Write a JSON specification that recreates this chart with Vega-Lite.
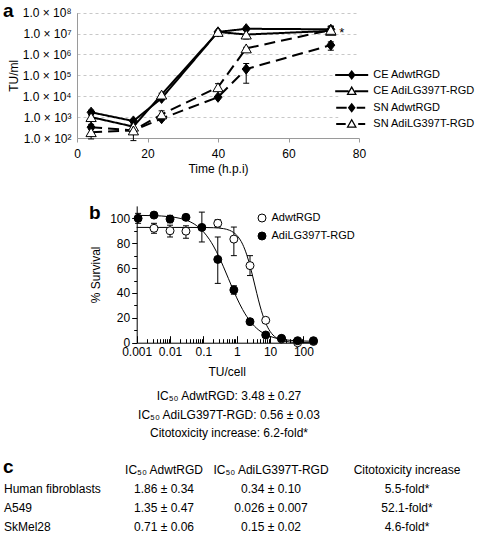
{
  "$schema": "https://vega.github.io/schema/vega-lite/v6.json",
  "width": 484,
  "height": 540,
  "autosize": {"type": "none"},
  "padding": 0,
  "background": "white",
  "config": {
    "view": {"stroke": null},
    "font": "Liberation Sans",
    "axis": {"labelFont": "Liberation Sans", "titleFont": "Liberation Sans", "labelColor": "black", "titleColor": "black", "titleFontWeight": "normal", "labelFontSize": 12, "titleFontSize": 12},
    "legend": {"labelFont": "Liberation Sans", "labelColor": "black", "labelFontSize": 11},
    "text": {"font": "Liberation Sans", "color": "black"}
  },
  "datasets": {
    "growth": [
      {"series": "CE AdwtRGD", "t": 4, "v": 1700, "lo": 1350, "hi": 2150},
      {"series": "CE AdwtRGD", "t": 16, "v": 650, "lo": 520, "hi": 800},
      {"series": "CE AdwtRGD", "t": 24, "v": 8000, "lo": 6600, "hi": 9800},
      {"series": "CE AdwtRGD", "t": 40, "v": 12000000, "lo": 11000000, "hi": 13000000},
      {"series": "CE AdwtRGD", "t": 48, "v": 17000000, "lo": 14000000, "hi": 20000000},
      {"series": "CE AdwtRGD", "t": 72, "v": 16000000, "lo": 11000000, "hi": 23000000},
      {"series": "CE AdiLG397T-RGD", "t": 4, "v": 1000, "lo": 800, "hi": 1250},
      {"series": "CE AdiLG397T-RGD", "t": 16, "v": 350, "lo": 280, "hi": 440},
      {"series": "CE AdiLG397T-RGD", "t": 24, "v": 12000, "lo": 10000, "hi": 14000},
      {"series": "CE AdiLG397T-RGD", "t": 40, "v": 12000000, "lo": 11000000, "hi": 13000000},
      {"series": "CE AdiLG397T-RGD", "t": 48, "v": 9000000, "lo": 5500000, "hi": 15000000},
      {"series": "CE AdiLG397T-RGD", "t": 72, "v": 13500000, "lo": 9000000, "hi": 22000000},
      {"series": "SN AdwtRGD", "t": 4, "v": 330, "lo": 250, "hi": 450},
      {"series": "SN AdwtRGD", "t": 16, "v": 230, "lo": 200, "hi": 260},
      {"series": "SN AdwtRGD", "t": 24, "v": 850, "lo": 700, "hi": 1000},
      {"series": "SN AdwtRGD", "t": 40, "v": 9000, "lo": 8000, "hi": 10000},
      {"series": "SN AdwtRGD", "t": 48, "v": 200000, "lo": 42000, "hi": 370000},
      {"series": "SN AdwtRGD", "t": 72, "v": 2800000, "lo": 1600000, "hi": 4000000},
      {"series": "SN AdiLG397T-RGD", "t": 4, "v": 190, "lo": 90, "hi": 290},
      {"series": "SN AdiLG397T-RGD", "t": 16, "v": 230, "lo": 75, "hi": 320},
      {"series": "SN AdiLG397T-RGD", "t": 24, "v": 1350, "lo": 800, "hi": 2000},
      {"series": "SN AdiLG397T-RGD", "t": 40, "v": 27000, "lo": 20000, "hi": 40000},
      {"series": "SN AdiLG397T-RGD", "t": 48, "v": 1950000, "lo": 1700000, "hi": 2200000},
      {"series": "SN AdiLG397T-RGD", "t": 72, "v": 15000000, "lo": 10000000, "hi": 22000000}
    ],
    "growthLegend": [
      {"series": "CE AdwtRGD"},
      {"series": "CE AdiLG397T-RGD"},
      {"series": "SN AdwtRGD"},
      {"series": "SN AdiLG397T-RGD"}
    ],
    "viability": [
      {"series": "AdwtRGD", "dose": 0.0033, "s": 92, "lo": 88, "hi": 96},
      {"series": "AdwtRGD", "dose": 0.01, "s": 90, "lo": 85, "hi": 94.5},
      {"series": "AdwtRGD", "dose": 0.03, "s": 89.7, "lo": 84, "hi": 94},
      {"series": "AdwtRGD", "dose": 0.27, "s": 96, "lo": 93, "hi": 99},
      {"series": "AdwtRGD", "dose": 0.82, "s": 83.3, "lo": 70, "hi": 93},
      {"series": "AdwtRGD", "dose": 2.5, "s": 62, "lo": 54, "hi": 70},
      {"series": "AdwtRGD", "dose": 7.4, "s": 18, "lo": 16.5, "hi": 19.5},
      {"series": "AdwtRGD", "dose": 22, "s": 3, "lo": 2, "hi": 4},
      {"series": "AdwtRGD", "dose": 67, "s": 0, "lo": -0.5, "hi": 0.5},
      {"series": "AdwtRGD", "dose": 200, "s": 1, "lo": 0.5, "hi": 1.5},
      {"series": "AdiLG397T-RGD", "dose": 0.0011, "s": 100, "lo": 96, "hi": 104},
      {"series": "AdiLG397T-RGD", "dose": 0.0033, "s": 102.6, "lo": 100.6, "hi": 104.6},
      {"series": "AdiLG397T-RGD", "dose": 0.01, "s": 99.4, "lo": 96.4, "hi": 102.4},
      {"series": "AdiLG397T-RGD", "dose": 0.03, "s": 100.8, "lo": 99.3, "hi": 102.3},
      {"series": "AdiLG397T-RGD", "dose": 0.09, "s": 92.7, "lo": 81, "hi": 105},
      {"series": "AdiLG397T-RGD", "dose": 0.27, "s": 67, "lo": 47.7, "hi": 85},
      {"series": "AdiLG397T-RGD", "dose": 0.82, "s": 42.4, "lo": 39, "hi": 45.8},
      {"series": "AdiLG397T-RGD", "dose": 2.5, "s": 16.9, "lo": 15, "hi": 19},
      {"series": "AdiLG397T-RGD", "dose": 7.4, "s": 6.2, "lo": 5, "hi": 7.5},
      {"series": "AdiLG397T-RGD", "dose": 22, "s": 3.5, "lo": 2.5, "hi": 4.5},
      {"series": "AdiLG397T-RGD", "dose": 67, "s": 1.6, "lo": 0.8, "hi": 2.4},
      {"series": "AdiLG397T-RGD", "dose": 200, "s": 1.6, "lo": 0.5, "hi": 2.7}
    ],
    "fit": [
      {"series": "AdwtRGD", "dose": 0.001, "s": 92.7},
      {"series": "AdwtRGD", "dose": 0.01, "s": 92.7},
      {"series": "AdwtRGD", "dose": 0.1, "s": 92.65},
      {"series": "AdwtRGD", "dose": 0.2, "s": 92.47},
      {"series": "AdwtRGD", "dose": 0.4, "s": 91.72},
      {"series": "AdwtRGD", "dose": 0.6, "s": 90.45},
      {"series": "AdwtRGD", "dose": 0.8, "s": 88.66},
      {"series": "AdwtRGD", "dose": 1, "s": 86.4},
      {"series": "AdwtRGD", "dose": 1.5, "s": 79.18},
      {"series": "AdwtRGD", "dose": 2, "s": 70.63},
      {"series": "AdwtRGD", "dose": 2.5, "s": 61.84},
      {"series": "AdwtRGD", "dose": 3, "s": 53.52},
      {"series": "AdwtRGD", "dose": 3.48, "s": 46.35},
      {"series": "AdwtRGD", "dose": 4, "s": 39.63},
      {"series": "AdwtRGD", "dose": 5, "s": 29.51},
      {"series": "AdwtRGD", "dose": 6, "s": 22.4},
      {"series": "AdwtRGD", "dose": 7.5, "s": 15.41},
      {"series": "AdwtRGD", "dose": 10, "s": 9.11},
      {"series": "AdwtRGD", "dose": 15, "s": 4.12},
      {"series": "AdwtRGD", "dose": 20, "s": 2.3},
      {"series": "AdwtRGD", "dose": 30, "s": 1.0},
      {"series": "AdwtRGD", "dose": 50, "s": 0.34},
      {"series": "AdwtRGD", "dose": 100, "s": 0.08},
      {"series": "AdwtRGD", "dose": 200, "s": 0.02},
      {"series": "AdiLG397T-RGD", "dose": 0.001, "s": 102.4},
      {"series": "AdiLG397T-RGD", "dose": 0.003, "s": 102.18},
      {"series": "AdiLG397T-RGD", "dose": 0.01, "s": 101.3},
      {"series": "AdiLG397T-RGD", "dose": 0.02, "s": 99.97},
      {"series": "AdiLG397T-RGD", "dose": 0.04, "s": 97.23},
      {"series": "AdiLG397T-RGD", "dose": 0.07, "s": 93.15},
      {"series": "AdiLG397T-RGD", "dose": 0.1, "s": 89.24},
      {"series": "AdiLG397T-RGD", "dose": 0.15, "s": 83.2},
      {"series": "AdiLG397T-RGD", "dose": 0.2, "s": 77.78},
      {"series": "AdiLG397T-RGD", "dose": 0.3, "s": 68.53},
      {"series": "AdiLG397T-RGD", "dose": 0.4, "s": 61.03},
      {"series": "AdiLG397T-RGD", "dose": 0.56, "s": 51.75},
      {"series": "AdiLG397T-RGD", "dose": 0.7, "s": 45.55},
      {"series": "AdiLG397T-RGD", "dose": 1, "s": 36.08},
      {"series": "AdiLG397T-RGD", "dose": 1.5, "s": 26.66},
      {"series": "AdiLG397T-RGD", "dose": 2, "s": 21.07},
      {"series": "AdiLG397T-RGD", "dose": 3, "s": 14.84},
      {"series": "AdiLG397T-RGD", "dose": 5, "s": 9.38},
      {"series": "AdiLG397T-RGD", "dose": 7.5, "s": 6.53},
      {"series": "AdiLG397T-RGD", "dose": 10, "s": 5.09},
      {"series": "AdiLG397T-RGD", "dose": 20, "s": 2.95},
      {"series": "AdiLG397T-RGD", "dose": 50, "s": 1.72},
      {"series": "AdiLG397T-RGD", "dose": 100, "s": 1.34},
      {"series": "AdiLG397T-RGD", "dose": 200, "s": 1.16}
    ],
    "ic50": [
      {"line": 1, "text": "IC₅₀ AdwtRGD: 3.48 ± 0.27"},
      {"line": 2, "text": "IC₅₀ AdiLG397T-RGD: 0.56 ± 0.03"},
      {"line": 3, "text": "Citotoxicity increase: 6.2-fold*"}
    ],
    "table": [
      {"row": "header", "label": "", "c1": "IC₅₀ AdwtRGD", "c2": "IC₅₀ AdiLG397T-RGD", "c3": "Citotoxicity increase"},
      {"row": "Human fibroblasts", "label": "Human fibroblasts", "c1": "1.86 ± 0.34", "c2": "0.34 ± 0.10", "c3": "5.5-fold*"},
      {"row": "A549", "label": "A549", "c1": "1.35 ± 0.47", "c2": "0.026 ± 0.007", "c3": "52.1-fold*"},
      {"row": "SkMel28", "label": "SkMel28", "c1": "0.71 ± 0.06", "c2": "0.15 ± 0.02", "c3": "4.6-fold*"}
    ],
    "letters": [
      {"panel": "a"},
      {"panel": "b"},
      {"panel": "c"}
    ]
  },
  "resolve": {
    "scale": {"x": "independent", "y": "independent", "fill": "independent", "shape": "independent", "strokeDash": "independent"},
    "axis": {"x": "independent", "y": "independent"},
    "legend": {"fill": "independent", "shape": "independent", "strokeDash": "independent"}
  },
  "layer": [
    {
      "data": {"name": "growth"},
      "encoding": {
        "x": {
          "field": "t", "type": "quantitative", "title": "Time (h.p.i)",
          "scale": {"domain": [0, 80], "range": [77, 359], "nice": false, "zero": false},
          "axis": {"orient": "bottom", "offset": -402, "values": [0, 20, 40, 60, 80], "labelFlush": false, "labelOverlap": false, "grid": false, "domainColor": "#9a9a9a", "tickColor": "#9a9a9a", "tickSize": 4, "labelPadding": 6, "titlePadding": 4}
        },
        "y": {
          "field": "v", "type": "quantitative", "title": "TU/ml",
          "scale": {"type": "log", "domain": [100, 100000000], "range": [138, 12.7], "nice": false},
          "axis": {"orient": "left", "offset": -77, "values": [100, 1000, 10000, 100000, 1000000, 10000000, 100000000], "labelExpr": "'1.0 × 10' + ['⁰','¹','²','³','⁴','⁵','⁶','⁷','⁸','⁹'][round(log(datum.value)/LN10)]", "labelOverlap": false, "labelFlush": false, "ticks": false, "labelPadding": 6, "titlePadding": 2, "domainColor": "#9a9a9a", "grid": true, "gridColor": "#c8c8c8", "gridDash": [3, 3], "gridWidth": 1}
        }
      },
      "layer": [
        {"mark": {"type": "rule", "color": "black", "strokeWidth": 1}, "encoding": {"y": {"field": "lo", "type": "quantitative", "title": "TU/ml"}, "y2": {"field": "hi"}}},
        {"mark": {"type": "tick", "orient": "horizontal", "color": "black", "thickness": 1, "size": 6, "opacity": 1}, "encoding": {"y": {"field": "lo", "type": "quantitative", "title": "TU/ml"}}},
        {"mark": {"type": "tick", "orient": "horizontal", "color": "black", "thickness": 1, "size": 6, "opacity": 1}, "encoding": {"y": {"field": "hi", "type": "quantitative", "title": "TU/ml"}}},
        {
          "mark": {"type": "line", "color": "black", "strokeWidth": 2},
          "encoding": {
            "strokeDash": {
              "field": "series", "type": "nominal", "legend": null,
              "scale": {"domain": ["CE AdwtRGD", "CE AdiLG397T-RGD", "SN AdwtRGD", "SN AdiLG397T-RGD"], "range": [[1, 0], [1, 0], [11, 6], [11, 6]]}
            }
          }
        },
        {
          "transform": [{"filter": "datum.series === 'CE AdwtRGD' || datum.series === 'SN AdwtRGD'"}],
          "mark": {"type": "point", "shape": "M0,-1L0.78,0L0,1L-0.78,0Z", "filled": true, "fill": "black", "size": 105, "stroke": "black", "strokeWidth": 1, "opacity": 1}
        },
        {
          "transform": [{"filter": "datum.series === 'CE AdiLG397T-RGD' || datum.series === 'SN AdiLG397T-RGD'"}],
          "mark": {"type": "point", "shape": "triangle-up", "filled": true, "fill": "white", "size": 105, "stroke": "black", "strokeWidth": 1, "opacity": 1}
        },
        {
          "transform": [{"filter": "datum.series === 'SN AdiLG397T-RGD' && datum.t === 72"}],
          "mark": {"type": "text", "text": "*", "dx": 11, "dy": 3, "fontSize": 13, "align": "center", "baseline": "middle"}
        }
      ]
    },
    {
      "data": {"name": "growthLegend"},
      "encoding": {
        "x": {"field": "series", "type": "nominal", "scale": {"type": "point", "domain": ["CE AdwtRGD", "CE AdiLG397T-RGD", "SN AdwtRGD", "SN AdiLG397T-RGD"], "range": [351.7, 351.7], "padding": 0}, "axis": null},
        "y": {"field": "series", "type": "nominal", "scale": {"type": "point", "domain": ["CE AdwtRGD", "CE AdiLG397T-RGD", "SN AdwtRGD", "SN AdiLG397T-RGD"], "range": [75, 124], "padding": 0}, "axis": null}
      },
      "layer": [
        {"mark": {"type": "point", "shape": "square", "filled": true, "fill": "white", "strokeWidth": 0, "size": 676, "opacity": 1}},
        {
          "mark": {"type": "point", "filled": true, "fill": "black", "strokeWidth": 0, "size": 100, "opacity": 1},
          "encoding": {
            "shape": {
              "field": "series", "type": "nominal", "legend": null,
              "scale": {"domain": ["CE AdwtRGD", "CE AdiLG397T-RGD", "SN AdwtRGD", "SN AdiLG397T-RGD"], "range": [
                "M-3.3,-0.2H-0.6V0.2H-3.3ZM0.6,-0.2H3.3V0.2H0.6ZM0,-1L0.78,0L0,1L-0.78,0Z",
                "M-3.3,-0.2H-0.62V0.2H-3.3ZM0.62,-0.2H3.3V0.2H0.62ZM0,-1.1L1.05,0.75L-1.05,0.75ZM0,-0.59L-0.62,0.5L0.62,0.5Z",
                "M-3.1,-0.2H-1V0.2H-3.1ZM1,-0.2H2.7V0.2H1ZM0,-1L0.78,0L0,1L-0.78,0Z",
                "M-3.1,-0.2H-1.2V0.2H-3.1ZM1.3,-0.2H2.7V0.2H1.3ZM0,-1.1L1.05,0.75L-1.05,0.75ZM0,-0.59L-0.62,0.5L0.62,0.5Z"
              ]}
            }
          }
        },
        {
          "mark": {"type": "text", "align": "left", "baseline": "middle", "fontSize": 11, "dx": 21.6},
          "encoding": {"text": {"field": "series"}}
        }
      ]
    },
    {
      "encoding": {
        "x": {
          "field": "dose", "type": "quantitative", "title": "TU/cell",
          "scale": {"type": "log", "domain": [0.001, 250], "range": [136.7, 316.7], "nice": false},
          "axis": {
            "orient": "bottom", "offset": -197.3,
            "values": [0.001, 0.002, 0.003, 0.004, 0.005, 0.006, 0.007, 0.008, 0.009, 0.01, 0.02, 0.03, 0.04, 0.05, 0.06, 0.07, 0.08, 0.09, 0.1, 0.2, 0.3, 0.4, 0.5, 0.6, 0.7, 0.8, 0.9, 1, 2, 3, 4, 5, 6, 7, 8, 9, 10, 20, 30, 40, 50, 60, 70, 80, 90, 100, 200],
            "labelExpr": "abs(log(datum.value)/LN10 - round(log(datum.value)/LN10)) < 0.001 ? format(datum.value, '~g') : ''",
            "labelOverlap": false, "labelFlush": false, "grid": false,
            "tickSize": {"condition": {"test": "abs(log(datum.value)/LN10 - round(log(datum.value)/LN10)) < 0.001", "value": -7}, "value": -4},
            "labelPadding": 11, "titlePadding": 6, "domainColor": "black", "tickColor": "black"
          }
        },
        "y": {
          "field": "s", "type": "quantitative", "title": "% Survival",
          "scale": {"domain": [0, 110], "range": [342.7, 205.9], "nice": false, "zero": false},
          "axis": {
            "orient": "left", "offset": -136.7,
            "values": [0, 10, 20, 30, 40, 50, 60, 70, 80, 90, 100],
            "labelExpr": "datum.value % 20 === 0 ? datum.label : ''",
            "tickSize": {"condition": {"test": "datum.value % 20 === 0", "value": 5}, "value": 3},
            "labelOverlap": false, "labelFlush": false, "grid": false,
            "labelPadding": 2, "titlePadding": 7, "domainColor": "black", "tickColor": "black"
          }
        }
      },
      "layer": [
        {
          "data": {"name": "fit"},
          "mark": {"type": "line", "color": "black", "strokeWidth": 1, "interpolate": "monotone"},
          "encoding": {"detail": {"field": "series", "type": "nominal"}}
        },
        {
          "data": {"name": "viability"},
          "mark": {"type": "rule", "color": "black", "strokeWidth": 1},
          "encoding": {"y": {"field": "lo", "type": "quantitative", "title": "% Survival"}, "y2": {"field": "hi"}}
        },
        {
          "data": {"name": "viability"},
          "mark": {"type": "tick", "orient": "horizontal", "color": "black", "thickness": 1, "size": 6, "opacity": 1},
          "encoding": {"y": {"field": "lo", "type": "quantitative", "title": "% Survival"}}
        },
        {
          "data": {"name": "viability"},
          "mark": {"type": "tick", "orient": "horizontal", "color": "black", "thickness": 1, "size": 6, "opacity": 1},
          "encoding": {"y": {"field": "hi", "type": "quantitative", "title": "% Survival"}}
        },
        {
          "data": {"name": "viability"},
          "mark": {"type": "point", "shape": "circle", "size": 64, "stroke": "black", "strokeWidth": 1, "opacity": 1, "filled": true},
          "encoding": {
            "fill": {
              "field": "series", "type": "nominal",
              "scale": {"domain": ["AdwtRGD", "AdiLG397T-RGD"], "range": ["white", "black"]},
              "legend": {
                "orient": "none", "legendX": 256.5, "legendY": 212.5, "title": null, "padding": 0,
                "labelFontSize": 11, "labelOffset": 4, "rowPadding": 5, "symbolType": "circle", "symbolSize": 64,
                "symbolStrokeColor": "black", "symbolStrokeWidth": 1, "symbolOpacity": 1
              }
            }
          }
        }
      ]
    },
    {
      "data": {"name": "ic50"},
      "mark": {"type": "text", "fontSize": 12, "dx": -13, "align": "center", "baseline": "middle"},
      "encoding": {
        "y": {"field": "line", "type": "ordinal", "scale": {"type": "point", "range": [396, 433], "padding": 0}, "axis": null},
        "text": {"field": "text"}
      }
    },
    {
      "data": {"name": "letters"},
      "encoding": {
        "y": {"field": "panel", "type": "nominal", "scale": {"type": "point", "domain": ["a", "b", "c"], "range": [11, 467], "padding": 0}, "axis": null},
        "text": {"field": "panel"}
      },
      "layer": [
        {"transform": [{"filter": "datum.panel === 'a'"}], "mark": {"type": "text", "align": "left", "baseline": "middle", "dx": -239, "fontSize": 19, "fontWeight": "bold"}},
        {"transform": [{"filter": "datum.panel === 'b'"}], "mark": {"type": "text", "align": "left", "baseline": "middle", "dx": -153, "dy": -26, "fontSize": 19, "fontWeight": "bold"}},
        {"transform": [{"filter": "datum.panel === 'c'"}], "mark": {"type": "text", "align": "left", "baseline": "middle", "dx": -239, "fontSize": 19, "fontWeight": "bold"}}
      ]
    },
    {
      "data": {"name": "table"},
      "encoding": {
        "y": {"field": "row", "type": "nominal", "scale": {"type": "point", "domain": ["header", "Human fibroblasts", "A549", "SkMel28"], "range": [470, 527], "padding": 0}, "axis": null}
      },
      "layer": [
        {"mark": {"type": "text", "align": "left", "dx": -238, "fontSize": 12, "baseline": "middle"}, "encoding": {"text": {"field": "label"}}},
        {"mark": {"type": "text", "align": "center", "dx": -78, "fontSize": 12, "baseline": "middle"}, "encoding": {"text": {"field": "c1"}}},
        {"mark": {"type": "text", "align": "center", "dx": 29, "fontSize": 12, "baseline": "middle"}, "encoding": {"text": {"field": "c2"}}},
        {"mark": {"type": "text", "align": "center", "dx": 165, "fontSize": 12, "baseline": "middle"}, "encoding": {"text": {"field": "c3"}}}
      ]
    }
  ]
}
